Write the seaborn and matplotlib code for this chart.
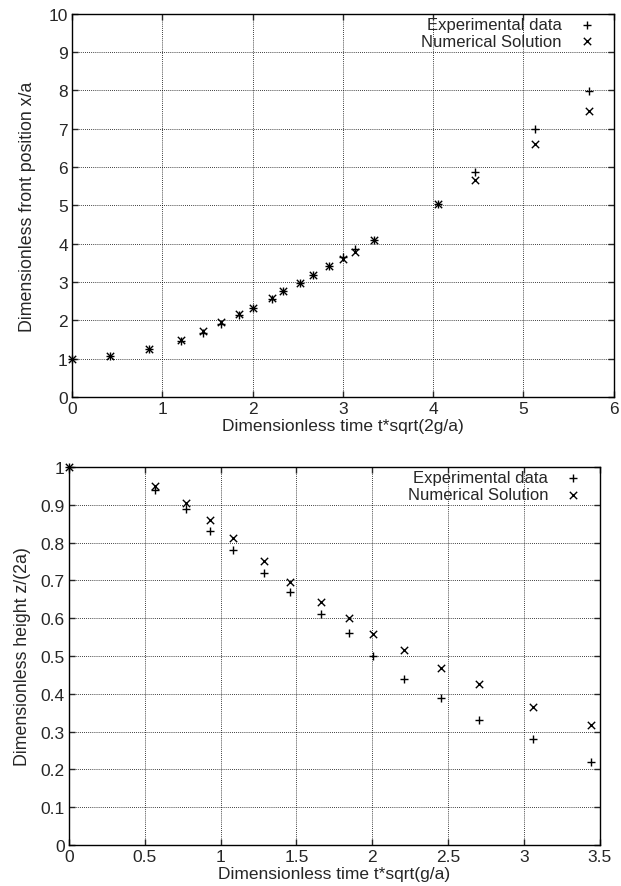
import seaborn as sns
import matplotlib.pyplot as plt

# front position vs time (top panel)
front_t = [0.0, 0.42, 0.85, 1.21, 1.45, 1.65, 1.85, 2.0, 2.22, 2.34, 2.53, 2.67,
           2.85, 3.0, 3.14, 3.35, 4.05, 4.47, 5.13, 5.73]
front_exp = [1.0, 1.07, 1.24, 1.45, 1.67, 1.90, 2.13, 2.33, 2.57, 2.77, 2.98, 3.19,
             3.42, 3.65, 3.87, 4.10, 5.04, 5.87, 7.0, 7.98]
front_num = [1.0, 1.07, 1.24, 1.50, 1.72, 1.96, 2.17, 2.33, 2.59, 2.77, 2.98, 3.19,
             3.42, 3.61, 3.78, 4.10, 5.04, 5.65, 6.61, 7.47]

# column height vs time (bottom panel)
height_t = [0.0, 0.566, 0.773, 0.93, 1.084, 1.284, 1.46, 1.66, 1.843, 2.003,
            2.21, 2.45, 2.70, 3.06, 3.44]
height_exp = [1.0, 0.94, 0.89, 0.83, 0.78, 0.72, 0.67, 0.61, 0.56, 0.50,
              0.44, 0.39, 0.33, 0.28, 0.22]
height_num = [1.0, 0.949, 0.905, 0.859, 0.812, 0.75, 0.695, 0.642, 0.60, 0.558,
              0.517, 0.467, 0.425, 0.366, 0.317]

sns.set_style("ticks")
plt.rcParams['font.family'] = ['Liberation Sans', 'DejaVu Sans']
plt.rcParams['font.size'] = 12


def draw_panel(ax, t, exp, num, xlim, xticks, yticks, xlabel, ylabel, ypad):
    sns.scatterplot(x=t, y=exp, ax=ax, marker='+', color='black', s=40,
                    linewidth=1, label='Experimental data', clip_on=False, zorder=3)
    sns.scatterplot(x=t, y=num, ax=ax, marker='x', color='black', s=28,
                    linewidth=1, label='Numerical Solution', clip_on=False, zorder=3)
    ax.set_xlim(*xlim)
    ax.set_ylim(yticks[0], yticks[-1])
    ax.set_xticks(xticks)
    ax.set_yticks(yticks)
    ax.set_xticklabels([f'{v:g}' for v in xticks])
    ax.set_yticklabels([f'{v:g}' for v in yticks])
    ax.grid(True, color='black', linestyle=(0, (1, 1.5)), linewidth=0.6)
    ax.tick_params(direction='in', top=True, right=True, length=4, width=1,
                   labelsize=12.5, pad=3)
    for sp in ax.spines.values():
        sp.set_color('black')
        sp.set_linewidth(1)
    ax.set_xlabel(xlabel, fontsize=12.5, labelpad=1)
    ax.set_ylabel(ylabel, fontsize=12.8, labelpad=ypad)
    ax.legend(loc='upper right', frameon=False, markerfirst=False,
              borderpad=0.2, borderaxespad=0, handlelength=2.8,
              handletextpad=0.1, labelspacing=0.1, fontsize=12)


fig = plt.figure(figsize=(6.21, 8.87), dpi=100)
ax1 = fig.add_axes([0.116, 0.5513, 0.872, 0.432])
ax2 = fig.add_axes([0.111, 0.0462, 0.855, 0.4262])

draw_panel(ax1, front_t, front_exp, front_num, (0, 6), list(range(7)),
           list(range(11)), 'Dimensionless time t*sqrt(2g/a)',
           'Dimensionless front position x/a', 9)
draw_panel(ax2, height_t, height_exp, height_num, (0, 3.5),
           [0, 0.5, 1, 1.5, 2, 2.5, 3, 3.5],
           [round(0.1 * i, 1) for i in range(11)],
           'Dimensionless time t*sqrt(g/a)', 'Dimensionless height z/(2a)', 7)

fig.savefig('out.png', dpi=100)
